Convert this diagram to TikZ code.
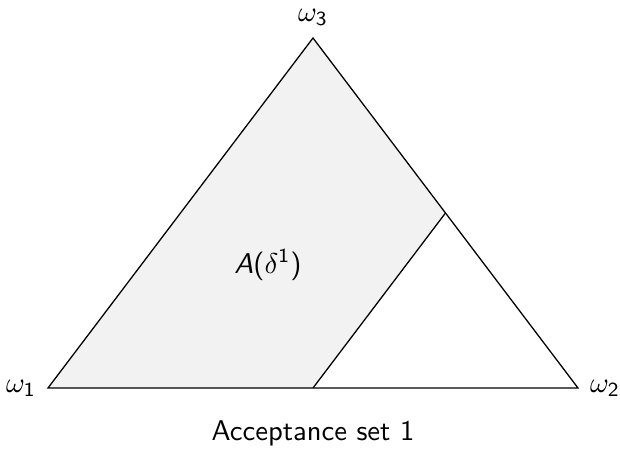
\documentclass[tikz,border=0pt]{standalone}
\usepackage{tikz}
\usetikzlibrary{calc, positioning}
\newcommand{\vtx}[1]{$\omega_{\mathsf{#1}}$}

\begin{document}
\begin{tikzpicture}[
    x=0.0123cm, y=-0.0123cm,
    font=\sffamily,
    edge/.style={draw=black, line width=0.45pt, line join=miter},
    region/.style={fill=gray!10},
    lbl/.style={inner sep=1pt}
]
\useasboundingbox (0,0) rectangle (620,459);
% corners of the simplex
\coordinate (w1) at (48,388);
\coordinate (w2) at (578,388);
\coordinate (w3) at (313,38);
\coordinate (m23) at ($(w2)!0.5!(w3)$);
\coordinate (m12) at ($(w1)!0.5!(w2)$);
% acceptance region
\fill[region] (w1) -- (w3) -- (m23) -- (m12) -- cycle;
\draw[edge] (w1) -- (w2) -- (w3) -- cycle;
\draw[edge] (m23) -- (m12);
\node[lbl, left=3pt of w1] (l1) {\vtx{1}};
\node[lbl, right=3pt of w2] (l2) {\vtx{2}};
\node[lbl, above=3pt of w3] (l3) {\vtx{3}};
\node (a) at (268,265) {{\slshape A}($\delta^{\mathsf{1}}$)};
\node (cap) at (313,433) {Acceptance set 1};
\end{tikzpicture}
\end{document}
